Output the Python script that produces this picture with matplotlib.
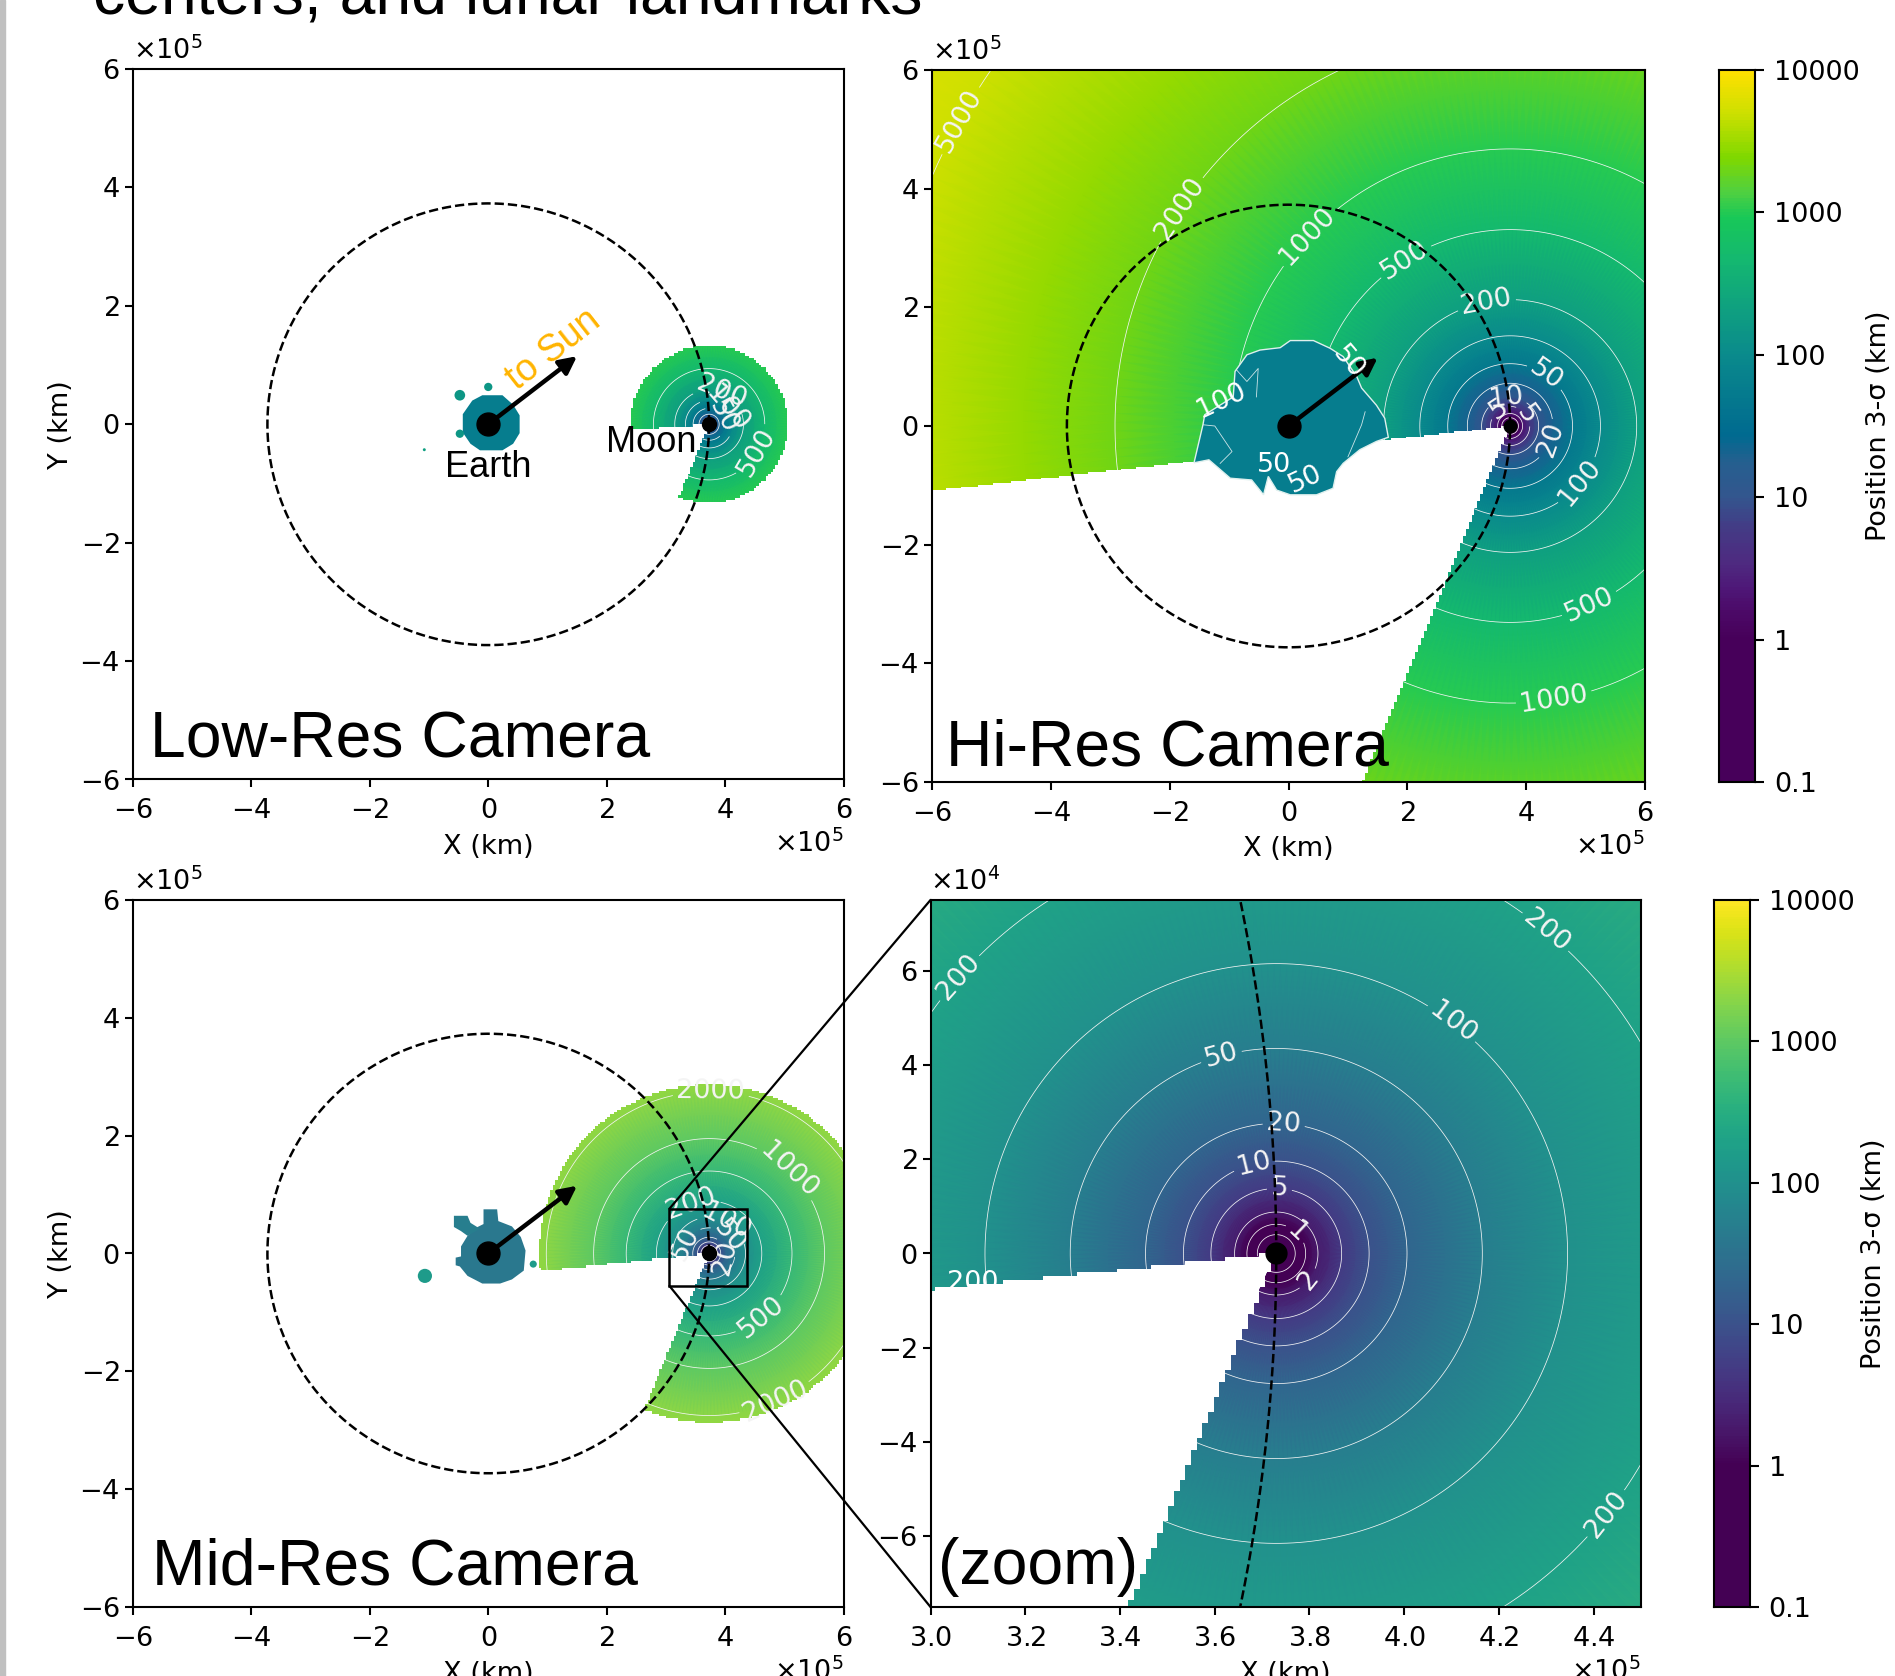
import numpy as np
import matplotlib
matplotlib.use('Agg')
import matplotlib.pyplot as plt
from matplotlib.colors import LinearSegmentedColormap, LogNorm
from matplotlib.patches import Polygon, Circle, Rectangle, ConnectionPatch
from matplotlib.path import Path

W, H = 1895, 1676
SANS = 'Liberation Sans'
plt.rcParams['font.family'] = ['DejaVu Sans']
plt.rcParams['font.size'] = 19.5
plt.rcParams['axes.linewidth'] = 1.5
plt.rcParams['xtick.major.size'] = 6
plt.rcParams['ytick.major.size'] = 6
plt.rcParams['xtick.major.width'] = 1.5
plt.rcParams['ytick.major.width'] = 1.5
plt.rcParams['xtick.major.pad'] = 7.5

MOON_X = 3.73e5
ORBIT_R = 3.73e5

# sigma (km) against range from the Moon (km)
low_radii = [1500, 3500, 5500, 8000, 11000, 17000, 27000, 40000, 58000, 94000, 133000, 150000]
low_sigma = [0.5, 1, 2, 5, 10, 20, 50, 100, 200, 500, 1000, 1150]
mid_radii = [1500, 2500, 4000, 6200, 8800, 13800, 19600, 27600, 43500, 61500, 89000, 140000, 195000, 275000, 300000]
mid_sigma = [0.2, 0.3, 0.5, 1, 2, 5, 10, 20, 50, 100, 200, 500, 1000, 2000, 2400]
hi_radii = [3000, 9000, 14000, 21000, 33000, 48000, 72000, 105000, 152000, 213000, 331000, 467000, 665000, 820000, 1060000, 1250000]
hi_sigma = [0.2, 0.5, 1, 2, 5, 10, 20, 50, 100, 200, 500, 1000, 2000, 3000, 5000, 7000]

low_levels = [1, 2, 5, 10, 20, 50, 100, 200, 500]
mid_levels = [0.5, 1, 2, 5, 10, 20, 50, 100, 200, 500, 1000, 2000]
hi_levels = [1, 2, 5, 10, 20, 50, 100, 200, 500, 1000, 2000, 5000]

# the sector with no coverage, angles seen from the Moon (deg)
wedge_start = 247.5
low_wedge_end = 184
mid_wedge_end = 186
hi_wedge_end = 186.4

# outer limit of coverage (km) and the size of the steps on its edge (km)
low_limit, low_steps = 1.33e5, (0.04e5, 0.04e5)
mid_limit, mid_steps = 2.87e5, (0.04e5, 0.04e5)
hi_limit, hi_steps = 1.3e6, (0.05e5, 0.03e5)
zoom_steps = (0.012e5, 0.008e5)

# contour label spots, units of 1e5 km
low_labels = [(3.97, 0.60), (4.10, 0.32), (4.05, 0.17), (4.53, -0.47)]
mid_labels = [(3.76, 2.75), (5.12, 1.47), (4.60, -1.07), (4.85, -2.49), (3.44, 0.81),
              (4.02, 0.55), (3.29, 0.19), (4.07, 0.28), (4.02, -0.07)]
hi_labels = [(-5.53, 5.15), (-1.85, 3.68), (0.37, 3.15), (1.94, 2.83), (3.33, 2.09),
             (4.37, 0.91), (4.90, -0.95), (4.34, -0.21), (3.67, 0.48), (3.55, 0.27),
             (3.97, 0.17), (5.07, -3.02), (4.48, -4.68)]
zoom_labels = [(3.08, 0.568), (4.295, 0.678), (4.107, 0.497), (3.615, 0.414), (3.746, 0.277),
               (3.683, 0.189), (3.737, 0.142), (3.78, 0.052), (3.80, -0.056), (4.40, -0.531)]

# Earth region outlines, units of 1e5 km
hi_earth_x = [-1.59, -1.44, -1.41, -0.93, -0.90, -0.70, -0.48, -0.14, 0.03, 0.42, 0.70, 0.92, 1.15, 1.23,
              1.48, 1.62, 1.68, 1.48, 1.20, 0.92, 0.81, 0.75, 0.47, 0.03, -0.20, -0.34, -0.42, -0.62, -0.98, -1.34, -1.49]
hi_earth_y = [-0.62, 0.02, 0.19, 0.49, 0.92, 1.20, 1.28, 1.32, 1.44, 1.44, 1.31, 1.17, 0.83, 0.64,
              0.35, 0.13, -0.19, -0.26, -0.40, -0.63, -0.77, -1.05, -1.16, -1.16, -1.08, -0.85, -1.16, -0.91, -0.88, -0.57, -0.60]
low_earth_x = [-0.43, -0.27, -0.10, 0.24, 0.42, 0.53, 0.53, 0.42, 0.24, -0.14, -0.30, -0.43]
low_earth_y = [0.17, 0.40, 0.49, 0.49, 0.33, 0.15, -0.15, -0.33, -0.44, -0.44, -0.33, -0.14]
mid_earth_x = [-0.46, -0.35, -0.18, -0.08, -0.08, 0.15, 0.17, 0.40, 0.55, 0.63, 0.60, 0.40, 0.20, -0.10, -0.35, -0.48, -0.55, -0.55, -0.46]
mid_earth_y = [0.12, 0.30, 0.45, 0.50, 0.75, 0.75, 0.55, 0.46, 0.28, 0.05, -0.29, -0.44, -0.51, -0.51, -0.38, -0.22, -0.20, -0.07, -0.05]
mid_lobe_x = [-0.58, -0.35, -0.30, -0.14, -0.35, -0.46, -0.58]
mid_lobe_y = [0.64, 0.64, 0.52, 0.42, 0.30, 0.38, 0.45]

# small isolated patches: x, y, radius, sigma
low_spots = [(-0.48, 0.49, 0.09, 150), (0.00, 0.63, 0.07, 150), (-0.48, -0.16, 0.07, 150), (-1.08, -0.43, 0.025, 200)]
mid_spots = [(-1.07, -0.38, 0.12, 150), (0.76, -0.18, 0.06, 150)]

# thin contours inside the Hi-Res Earth region
hi_inner_lines = [
    ([1.29, 1.23, 1.00], [0.24, 0.02, -0.52]),
    ([-0.87, -0.70, -0.51, -0.54], [0.94, 0.75, 0.97, 0.49]),
    ([-1.43, -1.24, -0.95, -1.15], [0.02, 0.00, -0.43, -0.63]),
]
hi_earth_text = [('100', -1.13, 0.43, 25), ('50', 1.00, 1.06, -50), ('50', -0.25, -0.65, 0), ('50', 0.29, -0.90, 25)]

# colours of the upper colorbar (position on the 1..10000 log scale, colour)
hi_cmap_stops = [(0.0, '#47005a'), (0.05, '#4c0a68'), (0.09, '#4e1878'), (0.133, '#4e2a80'), (0.193, '#443a85'),
                 (0.25, '#33568e'), (0.31, '#255f8f'), (0.358, '#006a90'), (0.5, '#0a8a8c'), (0.58, '#0fa080'),
                 (0.668, '#14b870'), (0.742, '#18c858'), (0.787, '#50d040'), (0.847, '#7fd800'), (0.929, '#d0e000'),
                 (1.0, '#ffe000')]
cbar_ticks = [0.1, 1, 10, 100, 1000, 10000]
cbar_ticklabels = ['0.1', '1', '10', '100', '1000', '10000']

hi_cmap = LinearSegmentedColormap.from_list('hires', hi_cmap_stops)
mid_cmap = plt.get_cmap('viridis')
norm = LogNorm(vmin=1, vmax=1e4)


def px_axes(fig, x0, y0, x1, y1):
    return fig.add_axes([x0/W, 1 - y1/H, (x1 - x0)/W, (y1 - y0)/H])


def px_text(fig, x, y, s):
    fig.text(x/W, 1 - y/H, s, fontsize=46.3, family=SANS, color='k', va='baseline', ha='left', zorder=10)


def stepped_outline(wedge_end, limit, steps):
    # coverage edge of the original grid: wedge sides and outer limit, snapped to grid cells
    a0, a1 = np.radians(wedge_start), np.radians(wedge_end + 360)
    r = np.linspace(0, limit, 3000)
    t = np.linspace(a0, a1, 6000)
    x = np.r_[r*np.cos(a0), limit*np.cos(t), r[::-1]*np.cos(a1)]
    y = np.r_[r*np.sin(a0), limit*np.sin(t), r[::-1]*np.sin(a1)]
    x = np.round(x/steps[0])*steps[0]
    y = np.round(y/steps[1])*steps[1]
    xs = np.repeat(x, 2)[1:]
    ys = np.repeat(y, 2)[:-1]
    return Path(np.c_[xs + MOON_X, ys])


def draw_field(ax, radii, sigma, levels, wedge_end, limit, steps, cmap, labels):
    theta = np.radians(np.linspace(wedge_start - 2, wedge_end + 362, 240))
    R, T = np.meshgrid(np.array(radii, dtype=float), theta)
    X = MOON_X + R*np.cos(T)
    Y = R*np.sin(T)
    Z = np.tile(np.array(sigma, dtype=float), (len(theta), 1))
    edge = stepped_outline(wedge_end, limit, steps)
    mesh = ax.pcolormesh(X, Y, Z, shading='gouraud', cmap=cmap, norm=norm, zorder=1)
    mesh.set_clip_path(edge, ax.transData)
    cs = ax.contour(X, Y, Z, levels=levels, colors='#f4f4f4', linewidths=0.55, zorder=2)
    ax.clabel(cs, fmt='%g', fontsize=19.5, inline_spacing=4,
              manual=[(x*1e5, y*1e5) for x, y in labels])
    cs.set_clip_path(edge, ax.transData)


def draw_common(ax, moon_ms=10, earth=True):
    t = np.linspace(0, 2*np.pi, 400)
    ax.plot(ORBIT_R*np.cos(t), ORBIT_R*np.sin(t), '--', color='k', lw=1.8, zorder=5)
    if earth:
        ax.annotate('', xy=(1.5e5, 1.15e5), xytext=(0, 0), zorder=6,
                    arrowprops=dict(arrowstyle='-|>', lw=3.2, color='k', mutation_scale=26, shrinkA=0, shrinkB=0))
        ax.plot([0], [0], 'o', color='k', ms=16.5, zorder=7)
    ax.plot([MOON_X], [0], 'o', color='k', ms=moon_ms, zorder=7)


def setup_axes(ax, xlim, ylim, xticks, yticks, ylabel=True):
    ax.set_xlim(xlim)
    ax.set_ylim(ylim)
    ax.set_xticks(xticks)
    ax.set_yticks(yticks)
    ax.ticklabel_format(style='sci', scilimits=(0, 0), useMathText=True)
    ax.yaxis.OFFSETTEXTPAD = 7
    ax.xaxis.OFFSETTEXTPAD = 4
    ax.set_xlabel('X (km)', labelpad=7)
    if ylabel:
        ax.set_ylabel('Y (km)')


def draw_colorbar(cax, cmap):
    edges = np.logspace(-1, 4, 257)
    mids = np.sqrt(edges[:-1]*edges[1:])
    cax.pcolormesh([0, 1], edges, mids[:, None], cmap=cmap, norm=norm)
    cax.set_yscale('log')
    cax.set_ylim(0.1, 1e4)
    cax.set_xticks([])
    cax.yaxis.tick_right()
    cax.yaxis.set_label_position('right')
    cax.set_yticks(cbar_ticks)
    cax.set_yticklabels(cbar_ticklabels)
    cax.minorticks_off()
    cax.tick_params(axis='y', length=6.5, pad=7)
    cax.set_ylabel('Position 3-\u03c3 (km)', labelpad=5)


fig = plt.figure(figsize=(W/100, H/100), dpi=100, facecolor='w')
fig.patches.append(Rectangle((0, 0), 5/W, 1, transform=fig.transFigure, color='#c0c0c0', zorder=0))

ax1 = px_axes(fig, 133, 69, 843.5, 779.5)
ax2 = px_axes(fig, 932, 70, 1645, 782)
ax3 = px_axes(fig, 133, 900, 843.5, 1607)
ax4 = px_axes(fig, 930.5, 900, 1641, 1607)
cax2 = px_axes(fig, 1719, 70, 1755, 782)
cax4 = px_axes(fig, 1714, 900, 1750, 1607)

wide = (-6e5, 6e5)
wide_ticks = np.arange(-6, 7, 2)*1e5
for ax in (ax1, ax2, ax3):
    setup_axes(ax, wide, wide, wide_ticks, wide_ticks, ylabel=ax is not ax2)
setup_axes(ax4, (3.0e5, 4.5e5), (-7.5e4, 7.5e4), np.arange(3.0, 4.5, 0.2)*1e5, np.arange(-6, 7, 2)*1e4, ylabel=False)

# Low-res
draw_field(ax1, low_radii, low_sigma, low_levels, low_wedge_end, low_limit, low_steps, hi_cmap, low_labels)
ax1.add_patch(Polygon(np.c_[low_earth_x, low_earth_y]*1e5, closed=True, fc=hi_cmap(norm(60)), ec='none', zorder=3))
for x, y, r, s in low_spots:
    ax1.add_patch(Circle((x*1e5, y*1e5), r*1e5, fc=hi_cmap(norm(s)), ec='none', zorder=3))
draw_common(ax1, moon_ms=10)
ax1.text(1.11e5, 1.26e5, 'to Sun', color='#ffb400', fontsize=27, family=SANS, rotation=38, ha='center', va='center', zorder=8)
ax1.text(0, -0.73e5, 'Earth', fontsize=26, family=SANS, ha='center', va='center', zorder=8)
ax1.text(2.75e5, -0.31e5, 'Moon', fontsize=26, family=SANS, ha='center', va='center', zorder=8)

# Hi-res
draw_field(ax2, hi_radii, hi_sigma, hi_levels, hi_wedge_end, hi_limit, hi_steps, hi_cmap, hi_labels)
ax2.add_patch(Polygon(np.c_[hi_earth_x, hi_earth_y]*1e5, closed=True, fc=hi_cmap(norm(60)), ec='#dff0ee', lw=1.0, zorder=3))
for xs, ys in hi_inner_lines:
    ax2.plot(np.array(xs)*1e5, np.array(ys)*1e5, color='w', lw=0.6, alpha=0.8, zorder=4)
for s, x, y, rot in hi_earth_text:
    ax2.text(x*1e5, y*1e5, s, color='w', fontsize=19.5, rotation=rot, ha='center', va='center', zorder=8)
draw_common(ax2, moon_ms=9)

# Mid-res
draw_field(ax3, mid_radii, mid_sigma, mid_levels, mid_wedge_end, mid_limit, mid_steps, mid_cmap, mid_labels)
ax3.add_patch(Polygon(np.c_[mid_earth_x, mid_earth_y]*1e5, closed=True, fc=mid_cmap(norm(40)), ec='none', zorder=3))
ax3.add_patch(Polygon(np.c_[mid_lobe_x, mid_lobe_y]*1e5, closed=True, fc=mid_cmap(norm(50)), ec='none', zorder=3))
for x, y, r, s in mid_spots:
    ax3.add_patch(Circle((x*1e5, y*1e5), r*1e5, fc=mid_cmap(norm(s)), ec='none', zorder=3))
draw_common(ax3, moon_ms=10)
ax3.add_patch(Rectangle((3.06e5, -0.55e5), 1.31e5, 1.31e5, fc='none', ec='k', lw=1.8, zorder=8))

# Zoom
draw_field(ax4, mid_radii, mid_sigma, mid_levels, mid_wedge_end, mid_limit, zoom_steps, mid_cmap, zoom_labels)
ax4.text(3.09e5, -0.62e4, '200', color='w', fontsize=19.5, ha='center', va='center', zorder=3)
t = np.linspace(0, 2*np.pi, 4000)
ax4.plot(ORBIT_R*np.cos(t), ORBIT_R*np.sin(t), '--', color='k', lw=1.8, zorder=5)
ax4.plot([MOON_X], [0], 'o', color='k', ms=15, zorder=7)

for corner_xy, corner_ax in [((3.06e5, 0.76e5), (0, 1)), ((3.06e5, -0.55e5), (0, 0))]:
    fig.add_artist(ConnectionPatch(xyA=corner_xy, coordsA=ax3.transData, xyB=corner_ax, coordsB=ax4.transAxes,
                                   color='k', lw=1.6, zorder=9))

draw_colorbar(cax2, hi_cmap)
draw_colorbar(cax4, mid_cmap)

px_text(fig, 149.5, 757, 'Low-Res Camera')
px_text(fig, 946.5, 765, 'Hi-Res Camera')
px_text(fig, 152, 1584, 'Mid-Res Camera')
px_text(fig, 938, 1584, '(zoom)')
px_text(fig, 93, 13, 'centers, and lunar landmarks')

fig.savefig('out.png', dpi=100)
